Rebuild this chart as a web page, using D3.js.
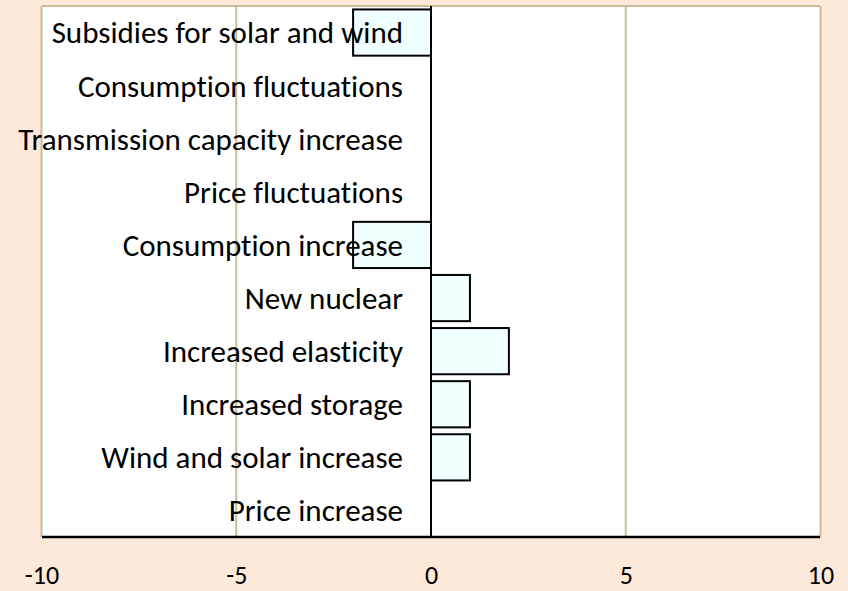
<!DOCTYPE html>
<html>
<head>
<meta charset="utf-8">
<script src="https://cdn.jsdelivr.net/npm/d3@7"></script>
<style>
  html, body { margin: 0; padding: 0; background: #FDE9DA; }
  svg { display: block; }
  text { font-family: Carlito, Calibri, Lato, "Open Sans", sans-serif; fill: #000; font-variant-ligatures: none; }
</style>
</head>
<body>
<svg id="chart" width="848" height="591"></svg>
<script>
// Categories, top to bottom
const categories = [
  "Subsidies for solar and wind",
  "Consumption fluctuations",
  "Transmission capacity increase",
  "Price fluctuations",
  "Consumption increase",
  "New nuclear",
  "Increased elasticity",
  "Increased storage",
  "Wind and solar increase",
  "Price increase"
];
const values = [-2, 0, 0, 0, -2, 1, 2, 1, 1, 0];
const xTicks = [-10, -5, 0, 5, 10];

const svg = d3.select("#chart");
const plot = { left: 42, right: 820, top: 6, bottom: 537 };

const x = d3.scaleLinear().domain([-10, 10]).range([plot.left - 0.5, plot.right + 0.5]);
const y = d3.scaleBand().domain(categories).range([plot.top, plot.bottom]).paddingInner(0.13).paddingOuter(0.065);

// plot background
svg.append("rect")
  .attr("x", plot.left).attr("y", plot.top)
  .attr("width", plot.right - plot.left).attr("height", plot.bottom - plot.top)
  .attr("fill", "#fff");

// vertical gridlines (including the left/right frame)
svg.append("g").selectAll("line")
  .data(xTicks.filter(d => d !== 0))
  .join("line")
  .attr("x1", d => x(d)).attr("x2", d => x(d))
  .attr("y1", plot.top).attr("y2", plot.bottom)
  .attr("stroke", "#C8BE98").attr("stroke-width", 2);

// top frame
svg.append("line")
  .attr("x1", plot.left).attr("x2", plot.right)
  .attr("y1", plot.top).attr("y2", plot.top)
  .attr("stroke", "#C8BE98").attr("stroke-width", 2);

// bars
svg.append("g").selectAll("rect")
  .data(categories.map((c, i) => ({ c, v: values[i] })))
  .join("rect")
  .attr("x", d => x(Math.min(0, d.v)))
  .attr("width", d => Math.abs(x(d.v) - x(0)))
  .attr("y", d => y(d.c))
  .attr("height", y.bandwidth())
  .attr("fill", "#F0FFFF")
  .attr("stroke", "#000").attr("stroke-width", 2);

// category labels beside the zero line
svg.append("g").selectAll("text")
  .data(categories)
  .join("text")
  .attr("x", x(0) - 28)
  .attr("y", d => y(d) + y.bandwidth() / 2)
  .attr("dy", "0.35em")
  .attr("text-anchor", "end")
  .attr("font-size", 31)
  .text(d => d);

// zero line
svg.append("line")
  .attr("x1", x(0)).attr("x2", x(0))
  .attr("y1", plot.top).attr("y2", plot.bottom)
  .attr("stroke", "#000").attr("stroke-width", 2);

// bottom axis
const axis = d3.axisBottom(x).tickValues(xTicks).tickSize(0).tickFormat(d => String(d));
const gx = svg.append("g").attr("transform", `translate(0,${plot.bottom})`).call(axis);
gx.select(".domain").attr("stroke", "#000").attr("stroke-width", 2.5)
  .attr("d", `M${plot.left},0H${plot.right}`);
gx.selectAll("text")
  .attr("y", 47).attr("dy", null)
  .attr("font-size", 26)
  .attr("font-family", "Carlito, Calibri, Lato, 'Open Sans', sans-serif")
  .attr("fill", "#000");
</script>
</body>
</html>
